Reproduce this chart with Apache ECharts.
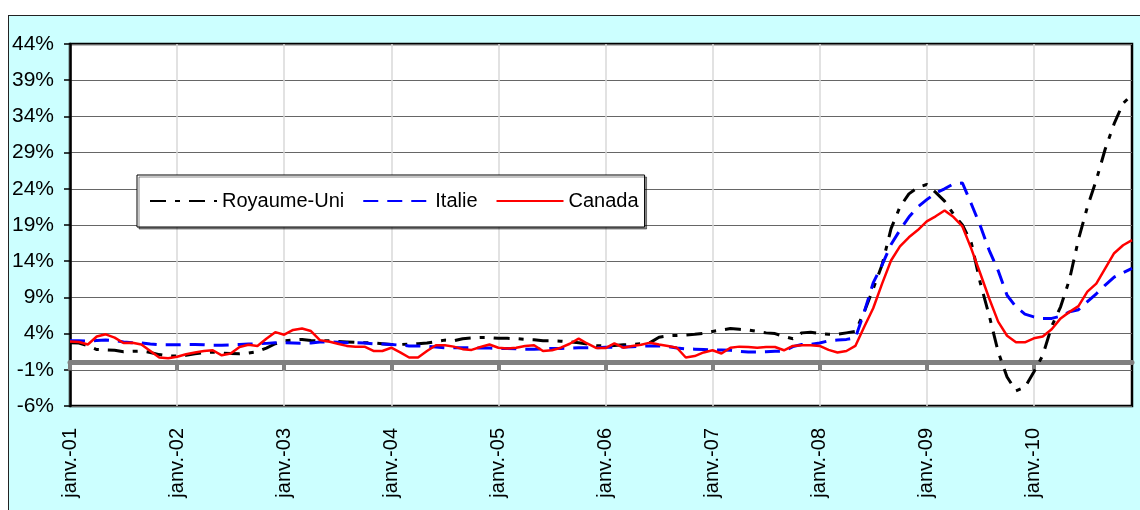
<!DOCTYPE html>
<html>
<head>
<meta charset="utf-8">
<script src="https://cdn.jsdelivr.net/npm/echarts@6/dist/echarts.min.js"></script>
<style>
    html, body { margin: 0; padding: 0; background: #fff; }
    #bg {
        position: absolute; left: 8px; top: 15px;
        width: 1140px; height: 500px;
        background: #ccffff; border: 1px solid #222;
    }
    #main { position: absolute; left: 0; top: 0; width: 1140px; height: 510px; }
</style>
</head>
<body>
<div id="bg"></div>
<div id="main"></div>
<script>
// monthly rates, Jan 2001 .. Dec 2010, in %
const monthNames = ['janv.', 'févr.', 'mars', 'avr.', 'mai', 'juin', 'juil.', 'août', 'sept.', 'oct.', 'nov.', 'déc.'];
const years = ['01', '02', '03', '04', '05', '06', '07', '08', '09', '10'];

const royaumeUni = [
    2.75, 2.7, 2.3, 1.8, 1.75, 1.7, 1.5, 1.55, 1.6, 1.4, 1.1, 0.9,
    0.9, 1.0, 1.2, 1.4, 1.45, 1.3, 1.25, 1.2, 1.3, 1.5, 2.0, 2.6,
    3.0, 3.1, 3.2, 3.05, 3.0, 3.0, 2.9, 2.85, 2.8, 2.75, 2.7, 2.6,
    2.5, 2.5, 2.55, 2.6, 2.7, 2.9, 3.1, 3.0, 3.3, 3.4, 3.45, 3.45,
    3.35, 3.35, 3.3, 3.2, 3.15, 3.0, 3.0, 2.95, 2.85, 2.75, 2.55, 2.35,
    2.3, 2.35, 2.45, 2.5, 2.6, 2.75, 3.5, 3.7, 3.75, 3.8, 3.9, 4.05,
    4.3, 4.5, 4.7, 4.6, 4.5, 4.3, 4.1, 4.0, 3.6, 3.3, 4.1, 4.2,
    4.0, 3.9, 3.9, 4.1, 4.3, 7.0, 10.2, 13.5, 18.5, 21.5, 23.3, 24.2,
    24.6, 23.5, 22.3, 20.5, 19.0, 16.5, 11.0, 6.5, 1.5, -2.0, -3.9, -3.4,
    -1.3, 1.0, 5.0, 7.7, 11.5, 17.0, 21.5, 25.2, 29.5, 33.0, 35.8, 37.0
];
const italie = [
    3.0, 3.0, 2.95, 3.05, 3.1, 3.05, 2.85, 2.75, 2.7, 2.55, 2.45, 2.45,
    2.45, 2.5, 2.5, 2.45, 2.4, 2.4, 2.45, 2.5, 2.55, 2.6, 2.65, 2.75,
    2.75, 2.7, 2.65, 2.7, 2.85, 2.85, 2.8, 2.75, 2.75, 2.7, 2.6, 2.55,
    2.5, 2.4, 2.3, 2.3, 2.25, 2.15, 2.05, 2.05, 2.05, 2.05, 2.0, 2.0,
    1.95, 1.95, 1.9, 1.85, 1.85, 1.9, 1.95, 1.95, 2.0, 2.05, 2.05, 2.05,
    2.1, 2.1, 2.15, 2.2, 2.25, 2.3, 2.3, 2.2, 2.0, 1.9, 1.85, 1.8,
    1.75, 1.75, 1.7, 1.55, 1.45, 1.45, 1.5, 1.55, 1.6, 2.2, 2.5, 2.5,
    2.7, 3.0, 3.1, 3.2, 3.4, 7.0, 11.0, 13.5, 16.3, 18.3, 20.1, 21.5,
    22.5, 23.4, 24.0, 24.7, 24.8, 21.9, 18.9, 15.5, 12.7, 9.3, 7.7, 6.7,
    6.3, 6.1, 6.1, 6.4, 7.0, 7.3, 8.4, 9.5, 10.7, 11.8, 12.4, 13.0
];
const canada = [
    2.9, 2.85, 2.5, 3.6, 3.9, 3.45, 2.7, 2.75, 2.5, 1.6, 0.7, 0.6,
    0.8, 1.15, 1.4, 1.6, 1.7, 1.0, 1.25, 2.15, 2.45, 2.3, 3.3, 4.2,
    3.85, 4.5, 4.7, 4.35, 3.1, 2.9, 2.6, 2.3, 2.2, 2.2, 1.6, 1.6,
    2.05, 1.4, 0.7, 0.7, 1.6, 2.4, 2.4, 2.2, 1.85, 1.75, 2.15, 2.5,
    2.05, 1.95, 2.05, 2.3, 2.4, 1.6, 1.7, 2.05, 2.6, 3.3, 2.6, 2.0,
    2.0, 2.65, 2.05, 2.3, 2.45, 2.75, 2.5, 2.3, 2.05, 0.7, 0.9, 1.4,
    1.7, 1.25, 2.05, 2.2, 2.15, 2.05, 2.15, 2.15, 1.7, 2.3, 2.4, 2.4,
    2.3, 1.75, 1.4, 1.6, 2.3, 4.95, 7.5, 10.9, 14.1, 16.05, 17.3, 18.3,
    19.5, 20.2, 21.0, 20.1, 18.8, 15.7, 12.3, 8.85, 5.65, 3.7, 2.8, 2.8,
    3.35, 3.6, 4.6, 6.1, 7.0, 7.8, 9.8, 10.9, 13.0, 15.1, 16.2, 16.9
];

let months = [];
years.forEach(y => monthNames.forEach(m => months.push(m + '-' + y)));

const FONT = "'Liberation Sans', Arial, sans-serif";
const everyYear = index => index % 12 === 0;

const chart = echarts.init(document.getElementById('main'));

chart.setOption({
    animation: false,
    textStyle: { fontFamily: FONT },
    grid: {
        show: true,
        left: 70,
        right: 8,
        top: 44,
        bottom: 104,
        backgroundColor: '#fff',
        borderColor: '#000',
        borderWidth: 2.5
    },
    legend: {
        left: 137,
        top: 175,
        padding: [16, 6, 16, 12],
        itemGap: 18,
        itemWidth: 67,
        itemHeight: 14,
        backgroundColor: '#fff',
        borderColor: '#000',
        borderWidth: 1,
        shadowColor: 'rgba(0,0,0,0.45)',
        shadowOffsetX: 2,
        shadowOffsetY: 2,
        itemStyle: { opacity: 0 },
        textStyle: { fontSize: 20, color: '#000', fontFamily: FONT },
        data: ['Royaume-Uni', 'Italie', 'Canada']
    },
    xAxis: [{
        type: 'category',
        data: months,
        boundaryGap: false,
        position: 'bottom',
        axisLine: { show: false, onZero: false },
        axisTick: { show: false },
        axisLabel: {
            interval: everyYear,
            rotate: 90,
            margin: 22,
            fontSize: 20,
            color: '#000',
            fontFamily: FONT
        },
        splitLine: {
            show: true,
            interval: everyYear,
            lineStyle: { color: '#d9d9d9', width: 1.5 }
        }
    }, {
        type: 'category',
        data: months,
        boundaryGap: false,
        position: 'top',
        axisLine: { show: true, onZero: true, lineStyle: { color: '#808080', width: 5 } },
        axisTick: {
            show: true,
            inside: true,
            interval: everyYear,
            length: 8,
            lineStyle: { color: '#808080', width: 4 }
        },
        axisLabel: { show: false },
        splitLine: { show: false }
    }],
    yAxis: {
        type: 'value',
        min: -6,
        max: 44,
        interval: 5,
        axisLine: { show: true, lineStyle: { color: '#000', width: 2.5 } },
        axisTick: { show: true, length: 6, lineStyle: { color: '#000', width: 1.5 } },
        axisLabel: {
            margin: 16,
            fontSize: 21,
            color: '#000',
            fontFamily: FONT,
            formatter: v => v + '%'
        },
        splitLine: { show: true, lineStyle: { color: '#666', width: 1.2 } }
    },
    series: [{
        name: 'Royaume-Uni',
        type: 'line',
        data: royaumeUni,
        symbol: 'none',
        lineStyle: { color: '#000', width: 3, type: [16, 9, 5, 9] },
        itemStyle: { color: '#000' }
    }, {
        name: 'Italie',
        type: 'line',
        data: italie,
        symbol: 'none',
        lineStyle: { color: '#0000ff', width: 3, type: [15, 9] },
        itemStyle: { color: '#0000ff' }
    }, {
        name: 'Canada',
        type: 'line',
        data: canada,
        symbol: 'none',
        lineStyle: { color: '#ff0000', width: 2.5 },
        itemStyle: { color: '#ff0000' }
    }]
});
</script>
</body>
</html>
